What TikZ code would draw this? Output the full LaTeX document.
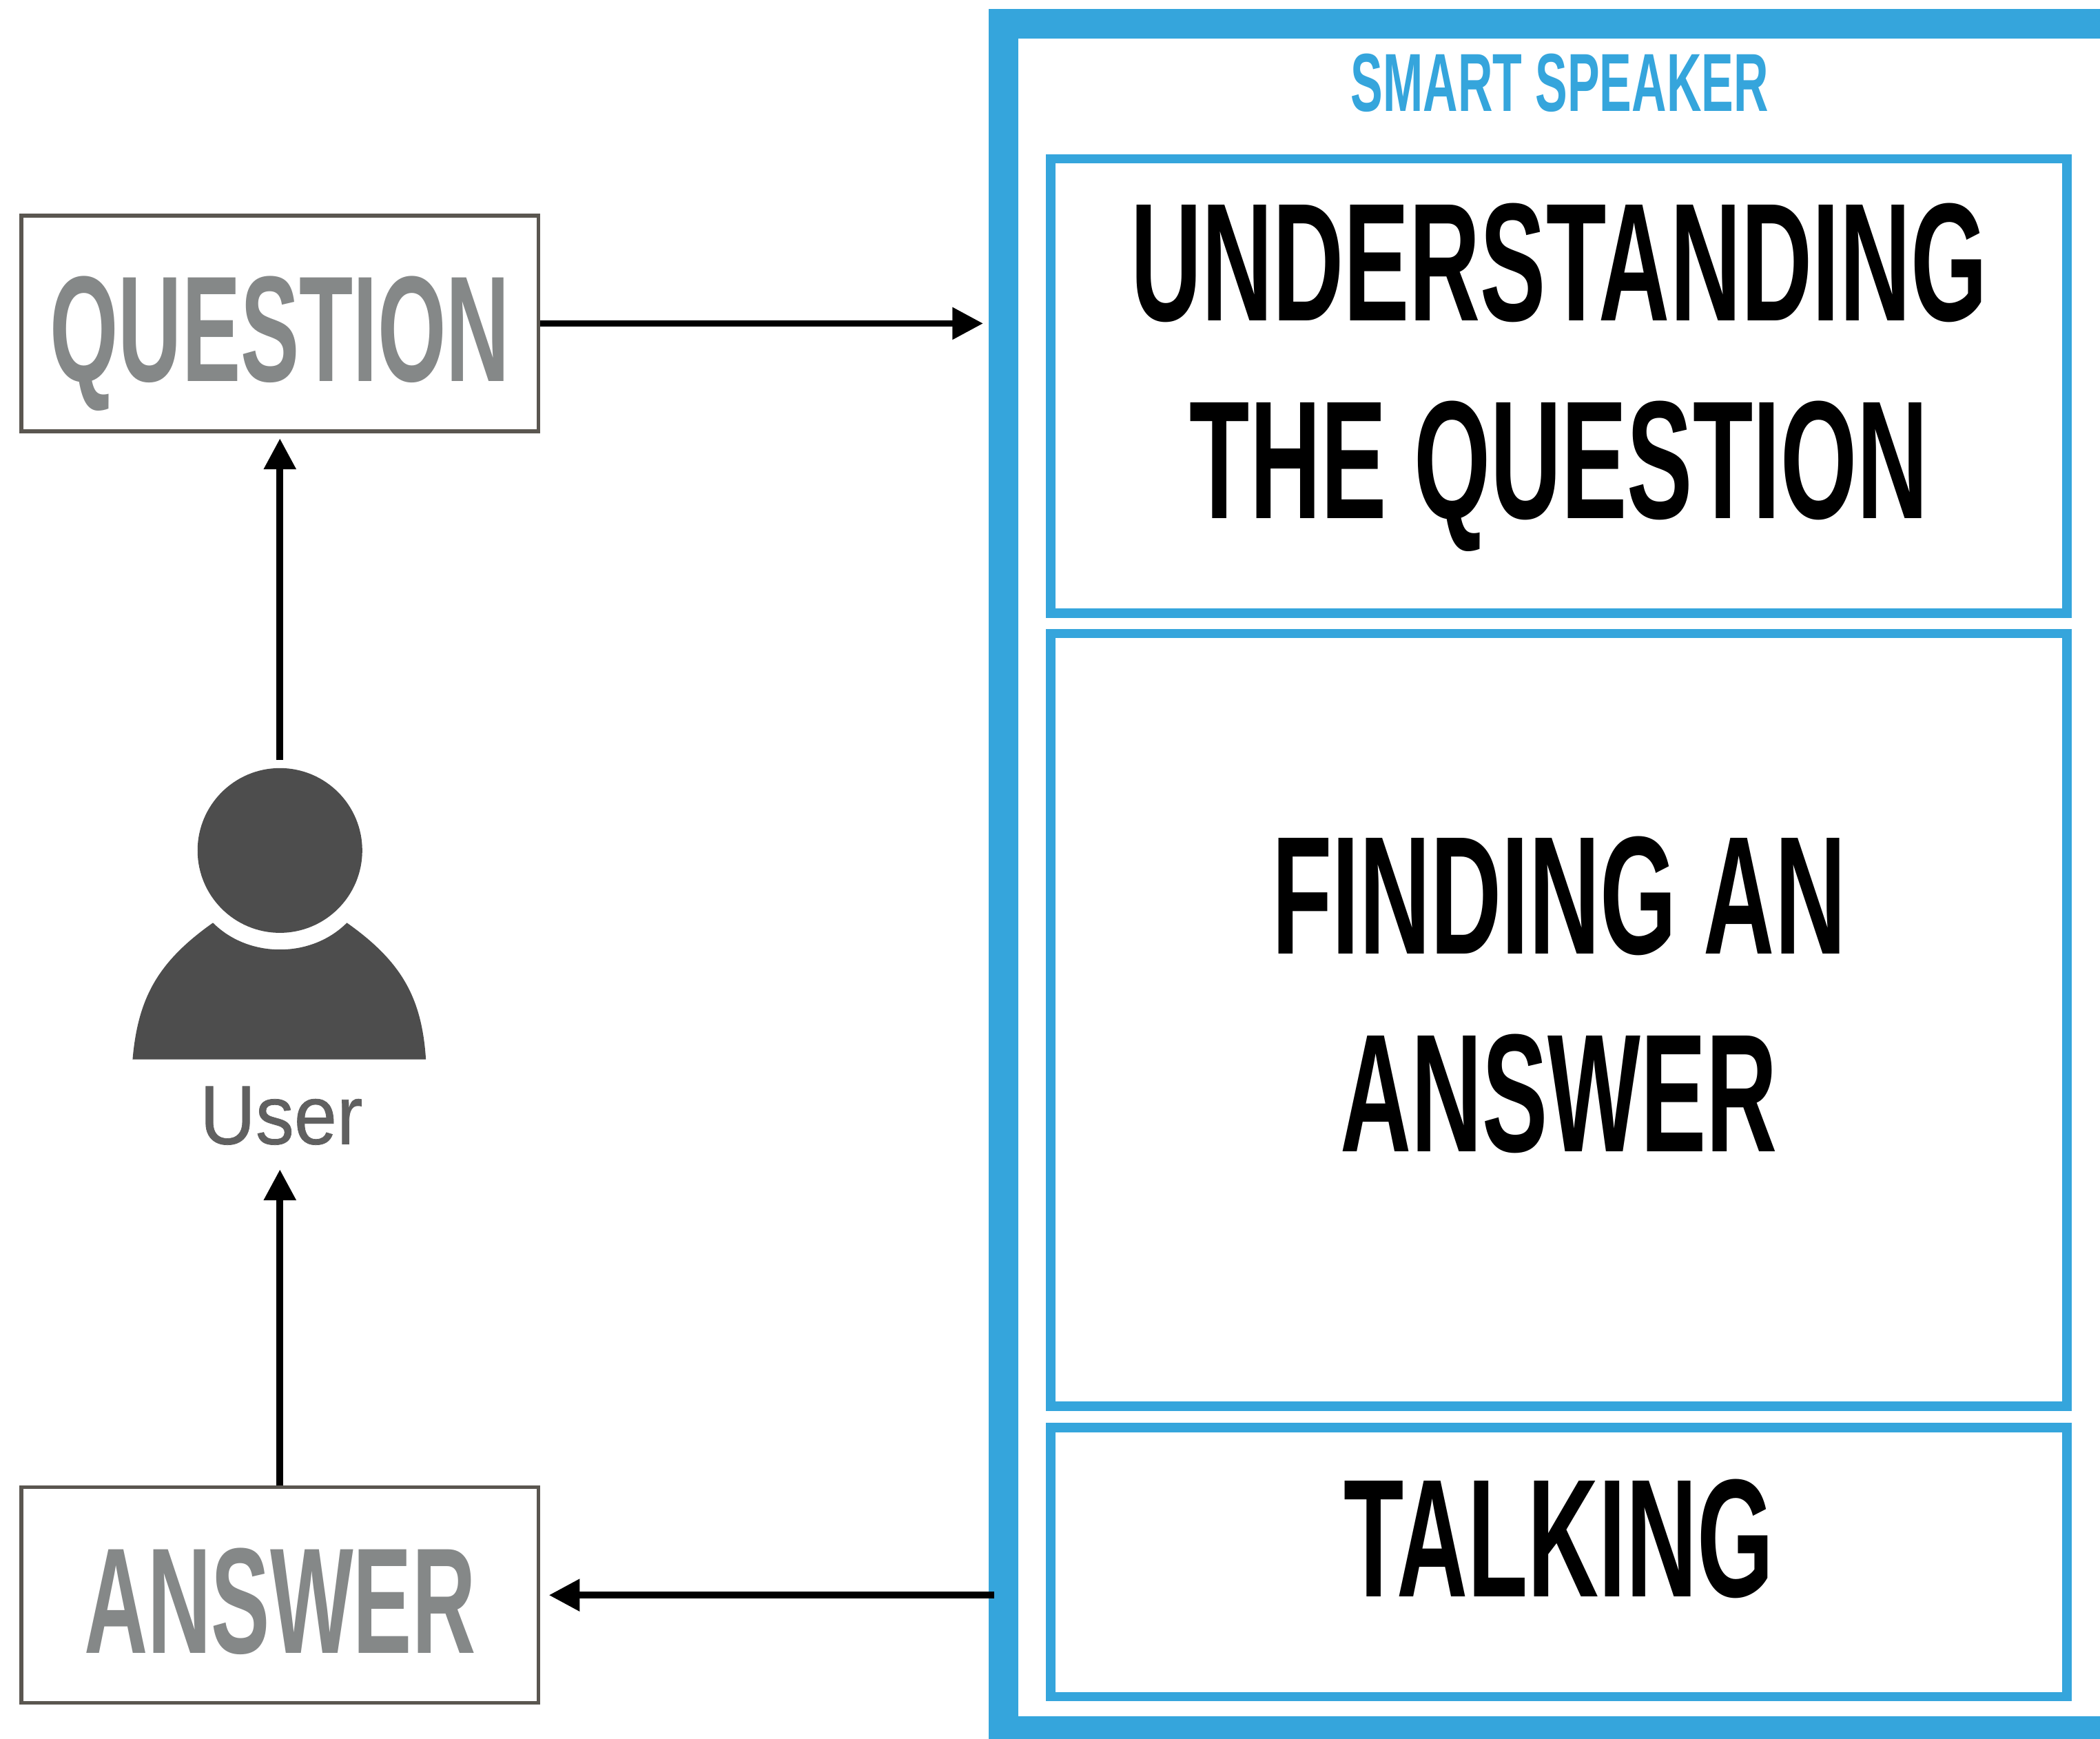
\documentclass[tikz,border=0pt]{standalone}
\usepackage{fontspec}
\usetikzlibrary{arrows,positioning,arrows.meta}
\newfontfamily\dinfont[FakeStretch=0.585]{Liberation Sans}
\newfontfamily\userfont[FakeStretch=0.92,FakeBold=0.6]{Liberation Sans}
\definecolor{speakerblue}{HTML}{35A5DC}
\definecolor{wordgray}{HTML}{858888}
\definecolor{boxgray}{HTML}{5A5650}
\definecolor{usergray}{HTML}{606060}
\definecolor{persongray}{HTML}{4D4D4D}
\tikzset{
    %Define standard arrow tip
    >={Triangle[width=4.6mm,length=4.6mm]},
    %Define style for boxes
    speakerframe/.style={
           rectangle,
           draw=speakerblue, line width=4.4mm,
           minimum width=17.02cm,
           minimum height=25.5cm},
    stagebox/.style={
           rectangle,
           draw=speakerblue, line width=1.4mm,
           minimum width=15.18cm},
    wordbox/.style={
           rectangle,
           draw=boxgray, line width=.56mm,
           minimum width=7.72cm,
           minimum height=3.22cm,
           text=wordgray,
           text height=49.3pt,
           text depth=0pt,
           inner sep=0pt,
           font=\dinfont\bfseries\fontsize{64}{64}\selectfont},
    %Define style for texts
    stageword/.style={
           inner sep=0pt,
           align=center,
           font=\dinfont\bfseries\fontsize{71.5}{84}\selectfont},
    % Define arrow style
    pil/.style={
           ->,
           line width=1mm,}
}
\begin{document}
\begin{tikzpicture}[x=0.02cm,y=-0.02cm]
 \clip (0,0) rectangle (1568,1298);
 \node[speakerframe] (speaker) at (1174.5,655) {};
 \node[inner sep=0pt, text=speakerblue, font=\dinfont\bfseries\fontsize{35}{35}\selectfont] (speakertitle) at (1164.5,62) {SMART SPEAKER};
 \node[stagebox, minimum height=6.79cm] (understanding) at (1164,288.25) {};
 \node[stagebox, minimum height=11.54cm, below=.16cm of understanding] (finding) {};
 \node[stagebox, minimum height=4.02cm, below=.18cm of finding] (talking) {};
 \node[stageword] (understandingword) at (1164,282) {UNDERSTANDING\\THE QUESTION};
 \node[stageword] (findingword) at (1164,743) {FINDING AN\\ANSWER};
 \node[stageword] (talkingword) at (1164,1149) {TALKING};
 \node[wordbox] (question) at (209,241.5) {QUESTION};
 \node[wordbox] (answer) at (209,1191) {ANSWER};
 % the user figure
 \node[circle, fill=persongray, inner sep=0pt, minimum size=2.46cm] (head) at (209,635) {};
 \fill[persongray] (99,791) .. controls (103,745) and (118,718) .. (159,689)
   .. controls (172,702) and (190,709) .. (209,709)
   .. controls (228,709) and (246,702) .. (259,689)
   .. controls (300,718) and (315,745) .. (318,791) -- cycle;
 \node[inner xsep=0pt, inner ysep=.36cm, text=usergray, font=\userfont\fontsize{35.6}{35.6}\selectfont] (user) at (210,833) {User};
 \draw[pil, shorten >=.08cm] (question.east) -- (question.east -| speaker.west);
 \draw[pil, shorten <=.12cm, shorten >=.08cm] (head.north) -- (question.south);
 \draw[pil] (answer.north) -- (answer.north |- user.south);
 \draw[pil, shorten <=-.08cm, shorten >=.13cm] (answer.east -| speaker.west) -- (answer.east);
\end{tikzpicture}
\end{document}
